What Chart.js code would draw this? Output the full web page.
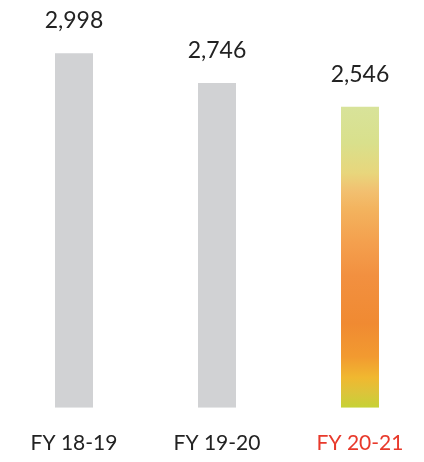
<!DOCTYPE html>
<html><head><meta charset="utf-8">
<script src="https://cdn.jsdelivr.net/npm/chart.js@4/dist/chart.umd.min.js"></script>
<style>
html,body{margin:0;padding:0;background:#fff;overflow:hidden;width:424px;height:462px}
#wrap{position:absolute;left:0;top:0;width:434px;height:462px}
</style></head><body>
<div id="wrap"><canvas id="c" width="434" height="462"></canvas></div>
<script>
const categories = ["FY 18-19", "FY 19-20", "FY 20-21"];
const values = [2998, 2746, 2546];
const valueLabels = ["2,998", "2,746", "2,546"];
const tickColors = ["#222222", "#222222", "#e8392b"];

function gradientFor(ctx) {
  const chart = ctx.chart;
  const area = chart.chartArea;
  if (!area) return "#d1d2d4";
  const ys = chart.scales.y;
  const top = ys.getPixelForValue(values[2]);
  const bottom = ys.getPixelForValue(0);
  const g = chart.ctx.createLinearGradient(0, top, 0, bottom);
  g.addColorStop(0.0, "#d8e39a");
  g.addColorStop(0.12, "#d9e08c");
  g.addColorStop(0.22, "#e8d67c");
  g.addColorStop(0.28, "#f2c070");
  g.addColorStop(0.34, "#f3b35e");
  g.addColorStop(0.45, "#f4a04e");
  g.addColorStop(0.56, "#f29040");
  g.addColorStop(0.72, "#f08a32");
  g.addColorStop(0.83, "#f29a30");
  g.addColorStop(0.9, "#f0b830");
  g.addColorStop(0.95, "#dcc43a");
  g.addColorStop(1.0, "#c6d236");
  return g;
}

const labelPlugin = {
  id: "valueLabels",
  afterDatasetsDraw(chart) {
    const c = chart.ctx;
    const meta = chart.getDatasetMeta(0);
    c.save();
    c.font = "23px Lato";
    c.fillStyle = "#222222";
    c.textAlign = "center";
    c.textBaseline = "alphabetic";
    meta.data.forEach((bar, i) => {
      c.fillText(valueLabels[i], bar.x, bar.y - 25);
    });
    c.restore();
  }
};

new Chart(document.getElementById("c"), {
  type: "bar",
  data: {
    labels: categories,
    datasets: [{
      data: values,
      backgroundColor: (ctx) => ctx.dataIndex === 2 ? gradientFor(ctx) : "#d1d2d4",
      borderWidth: 0,
      barPercentage: 0.2657,
      categoryPercentage: 1.0
    }]
  },
  options: {
    responsive: false,
    animation: false,
    events: [],
    layout: { padding: { top: 53, left: 2.5, right: 2.5, bottom: -17 } },
    plugins: { legend: { display: false }, tooltip: { enabled: false } },
    scales: {
      x: {
        grid: { display: false, drawTicks: false },
        border: { display: false },
        ticks: {
          padding: 23,
          font: { family: "Lato", size: 21 },
          color: (ctx) => tickColors[ctx.index]
        }
      },
      y: { display: false, min: 0, max: 3000 }
    }
  },
  plugins: [labelPlugin]
});
</script>
</body></html>
